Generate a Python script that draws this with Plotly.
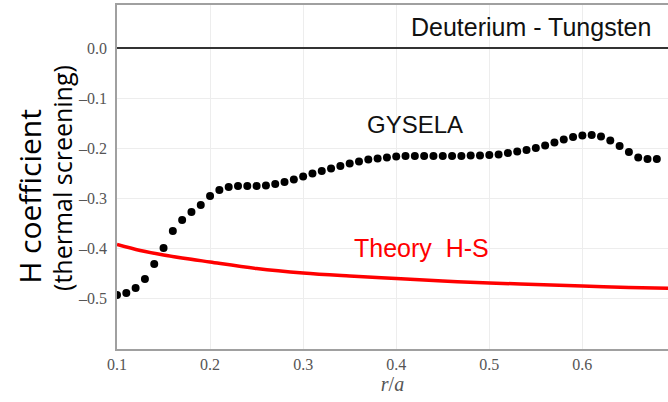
import plotly.graph_objects as go

# GYSELA simulation (dots)
gysela_r = [0.10, 0.11, 0.12, 0.13, 0.14, 0.15, 0.16, 0.17, 0.18, 0.19,
            0.20, 0.21, 0.22, 0.23, 0.24, 0.25, 0.26, 0.27, 0.28, 0.29,
            0.30, 0.31, 0.32, 0.33, 0.34, 0.35, 0.36, 0.37, 0.38, 0.39,
            0.40, 0.41, 0.42, 0.43, 0.44, 0.45, 0.46, 0.47, 0.48, 0.49,
            0.50, 0.51, 0.52, 0.53, 0.54, 0.55, 0.56, 0.57, 0.58, 0.59,
            0.60, 0.61, 0.62, 0.63, 0.64, 0.65, 0.66, 0.67, 0.68]
gysela_h = [-0.494, -0.490, -0.480, -0.462, -0.432, -0.400, -0.366, -0.344, -0.328, -0.314,
            -0.296, -0.284, -0.278, -0.276, -0.276, -0.276, -0.275, -0.272, -0.268, -0.263,
            -0.257, -0.251, -0.246, -0.241, -0.236, -0.231, -0.227, -0.223, -0.221, -0.219,
            -0.217, -0.216, -0.216, -0.216, -0.216, -0.216, -0.216, -0.216, -0.215, -0.215,
            -0.214, -0.213, -0.210, -0.207, -0.204, -0.200, -0.195, -0.189, -0.183, -0.178,
            -0.175, -0.174, -0.177, -0.185, -0.196, -0.208, -0.219, -0.222, -0.222]

# Theory H-S (red line)
theory_r = [0.10, 0.125, 0.15, 0.20, 0.25, 0.30, 0.35, 0.40, 0.45, 0.50, 0.55, 0.60, 0.65, 0.70]
theory_h = [-0.393, -0.405, -0.414, -0.428, -0.441, -0.450, -0.456, -0.461, -0.466, -0.470,
            -0.473, -0.476, -0.479, -0.481]

x_ticks = [0.1, 0.2, 0.3, 0.4, 0.5, 0.6]
x_labels = ["0.1", "0.2", "0.3", "0.4", "0.5", "0.6"]
y_ticks = [0.0, -0.1, -0.2, -0.3, -0.4, -0.5]
y_labels = ["0.0", "\u20130.1", "\u20130.2", "\u20130.3", "\u20130.4", "\u20130.5"]

fig = go.Figure()
fig.add_trace(go.Scatter(x=theory_r, y=theory_h, mode="lines",
                         line=dict(color="#ff0000", width=3.5, shape="spline"),
                         showlegend=False, hoverinfo="skip"))
fig.add_trace(go.Scatter(x=gysela_r, y=gysela_h, mode="markers",
                         marker=dict(color="black", size=8),
                         showlegend=False, hoverinfo="skip"))

tickfont = dict(family="Liberation Serif", size=16, color="#555555")

fig.update_layout(
    width=668, height=402,
    margin=dict(l=117, r=0, t=5, b=53),
    paper_bgcolor="white", plot_bgcolor="white",
    xaxis=dict(range=[0.1, 0.692], tickvals=x_ticks, ticktext=x_labels,
               showgrid=True, gridcolor="#ededed", gridwidth=1,
               showline=True, linecolor="#a0a0a0", linewidth=1.5, mirror=True,
               zeroline=False, ticks="", tickfont=tickfont,
               title=dict(text="<i>r</i>/<i>a</i>", standoff=2,
                          font=dict(family="Liberation Serif", size=20, color="#555555"))),
    yaxis=dict(range=[-0.602, 0.086], tickvals=y_ticks, ticktext=y_labels,
               showgrid=True, gridcolor="#ededed", gridwidth=1,
               showline=True, linecolor="#a0a0a0", linewidth=1.5,
               zeroline=True, zerolinecolor="#333333", zerolinewidth=1.5,
               ticks="", ticklabelstandoff=5, tickfont=tickfont),
    annotations=[
        dict(text="Deuterium - Tungsten", x=0.545, y=0.042, xref="x", yref="y",
             xanchor="center", yanchor="middle",
             showarrow=False, font=dict(family="Liberation Sans", size=25, color="#111111")),
        dict(text="GYSELA", x=0.42, y=-0.152, xref="x", yref="y",
             xanchor="center", yanchor="middle",
             showarrow=False, font=dict(family="Liberation Sans", size=24, color="#111111")),
        dict(text="Theory  H-S", x=0.427, y=-0.40, xref="x", yref="y",
             xanchor="center", yanchor="middle",
             showarrow=False, font=dict(family="Liberation Sans", size=25, color="#ff0000")),
        dict(text="H coefficient", x=-0.158, y=0.445, xref="paper", yref="paper",
             xanchor="center", yanchor="middle",
             textangle=-90, showarrow=False,
             font=dict(family="Open Sans", size=30, color="#000000")),
        dict(text="(thermal screening)", x=-0.1, y=0.497, xref="paper", yref="paper",
             xanchor="center", yanchor="middle",
             textangle=-90, showarrow=False,
             font=dict(family="Open Sans", size=25, color="#000000")),
    ],
)

fig.write_html("out.html", config={"displayModeBar": False},
               post_script="document.body.style.margin='0px';")
